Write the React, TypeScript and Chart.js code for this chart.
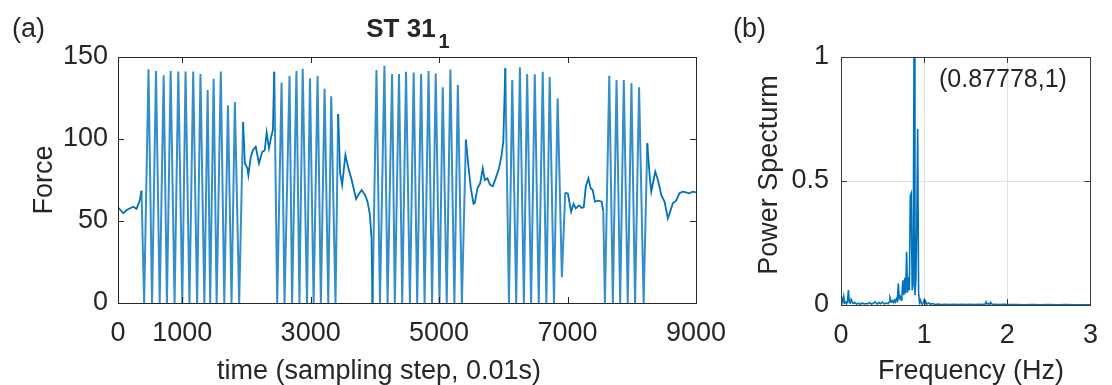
import React, { useEffect, useRef } from "react";
import { Chart, registerables } from "chart.js";

Chart.register(...registerables);

// ---------- Panel (a): force time series (key points) ----------
const timeSteps = [
  0, 82, 134, 237, 289, 340, 366, 407,
  475, 530, 592, 649, 711, 762, 820, 881, 939, 1001, 1052, 1113, 1171, 1232, 1284, 1345, 1396, 1435, 1489, 1536, 1601, 1655, 1712, 1768, 1820, 1887,
  1948, 1975, 2015, 2030, 2068, 2103, 2145, 2196, 2247, 2284, 2315, 2351, 2386, 2412,
  2433, 2479, 2547, 2593, 2671, 2711, 2779, 2825, 2876, 2943, 2989, 3046, 3108, 3159, 3217, 3274, 3320, 3387, 3428,
  3459, 3490, 3541, 3588, 3639, 3707, 3742, 3793, 3846, 3886, 3923, 3948, 3963,
  4025, 4079, 4149, 4198, 4268, 4311, 4376, 4426, 4485, 4546, 4604, 4659, 4720, 4774, 4836, 4891, 4948, 5006, 5057, 5119, 5176, 5238, 5292, 5355,
  5417, 5454, 5494, 5536, 5556, 5598, 5640, 5680, 5711, 5753, 5794, 5835, 5881, 5933, 5974, 6000,
  6031, 6088, 6139, 6201, 6258, 6320, 6371, 6433, 6490, 6552, 6614, 6670, 6722, 6789, 6846,
  6912, 6964, 7005, 7056, 7093, 7129, 7180, 7222, 7253, 7284, 7325, 7361, 7392, 7427, 7480, 7531, 7557, 7582,
  7650, 7706, 7763, 7820, 7876, 7938, 7995, 8052, 8114, 8185,
  8242, 8278, 8304, 8330, 8366, 8408, 8459, 8510, 8562, 8598, 8640, 8691, 8742, 8794, 8845, 8896, 8949, 9000,
];

const forceValues = [
  58.4, 54.7, 56.7, 58.7, 57.4, 62.8, 68.5, 0,
  142.5, 0, 141.5, 0, 138.9, 0, 141.5, 0, 141.1, 0, 141.1, 0, 141.1, 0, 139.6, 0, 129.9, 0, 136.8, 0, 141.1, 0, 120.6, 0, 122.6, 0,
  110.4, 85.2, 82.1, 78, 89.2, 93.3, 95.3, 85.2, 92.3, 93, 103.9, 94.3, 101.4, 105.5,
  141, 0, 134.4, 0, 138.4, 0, 141.5, 0, 142.9, 0, 137, 0, 138.4, 0, 130.6, 0, 126, 0, 115.3,
  79.1, 72, 90.3, 82.1, 75, 63.4, 65.9, 68.9, 65.9, 61.8, 53.7, 39.5, 0,
  142.1, 0, 144.7, 0, 139.6, 0, 139.6, 0, 141, 0, 140.5, 0, 139.6, 0, 141.5, 0, 140, 0, 131.5, 0, 142.4, 0, 132.9, 0,
  99.6, 84.2, 70, 60.5, 61, 70, 73, 82.1, 75, 76, 72, 71.2, 76, 82.1, 90.3, 98.4,
  143.1, 0, 136, 0, 143.7, 0, 139.6, 0, 139.5, 0, 141, 0, 137.8, 0, 124.8,
  15.7, 67.4, 66.7, 55.7, 60.4, 57.7, 59.5, 58, 58.5, 70.9, 76, 70, 68.9, 61.8, 62.4, 61.8, 55.7, 0,
  138.6, 0, 136, 0, 136, 0, 134, 0, 131.5, 0,
  97.4, 78, 67.9, 73, 80.1, 75, 65.9, 61.8, 51.6, 55.7, 60.8, 62.4, 66.9, 67.9, 67.5, 66.9, 67.9, 67.5,
];

const timeTicks = [0, 1000, 3000, 5000, 7000, 9000];
const forceTicks = [0, 50, 100, 150];

// ---------- Panel (b): power spectrum ----------
const freqHz = [
  0, 0.011, 0.022, 0.033, 0.044, 0.056, 0.067, 0.078, 0.089, 0.1, 0.111, 0.122, 0.144, 0.167, 0.189, 0.211, 0.233, 0.256,
  0.278, 0.3, 0.322, 0.344, 0.367, 0.389, 0.411, 0.433, 0.456, 0.478, 0.5, 0.522, 0.544, 0.567, 0.578, 0.589, 0.6, 0.611,
  0.622, 0.633, 0.644, 0.656, 0.667, 0.678, 0.689, 0.7, 0.711, 0.722, 0.733, 0.744, 0.756, 0.767, 0.778, 0.789, 0.8, 0.811,
  0.822, 0.833, 0.844, 0.856, 0.867, 0.878, 0.889, 0.9, 0.911, 0.922, 0.933, 0.944, 0.956, 0.967, 0.978, 0.989, 1.0, 1.011,
  1.022, 1.033, 1.056, 1.078, 1.1, 1.133, 1.167, 1.2, 1.256, 1.3, 1.356, 1.4, 1.456, 1.5, 1.556, 1.6, 1.656, 1.7, 1.733,
  1.744, 1.756, 1.778, 1.789, 1.8, 1.822, 1.856, 1.9, 1.956, 2.0, 2.1, 2.2, 2.3, 2.4, 2.5, 2.6, 2.7, 2.8, 2.9, 3.0,
];

const powerValues = [
  0.012, 0.027, 0.012, 0.034, 0.008, 0.012, 0.005, 0.015, 0.06, 0.01, 0.008, 0.023, 0.006, 0.01, 0.004, 0.007, 0.003, 0.008,
  0.004, 0.006, 0.005, 0.009, 0.004, 0.007, 0.013, 0.004, 0.01, 0.005, 0.012, 0.004, 0.008, 0.005, 0.012, 0.031, 0.02, 0.012,
  0.017, 0.01, 0.02, 0.012, 0.025, 0.018, 0.087, 0.027, 0.035, 0.02, 0.04, 0.1, 0.04, 0.11, 0.047, 0.215, 0.05, 0.09,
  0.06, 0.44, 0.45, 0.06, 0.08, 1.0, 0.04, 0.1, 0.316, 0.71, 0.05, 0.01, 0.02, 0.005, 0.003, 0.01, 0.02, 0.005,
  0.012, 0.004, 0.008, 0.003, 0.006, 0.002, 0.004, 0.002, 0.003, 0.002, 0.003, 0.002, 0.003, 0.002, 0.003, 0.002, 0.003, 0.002, 0.004,
  0.012, 0.003, 0.006, 0.002, 0.01, 0.002, 0.003, 0.002, 0.003, 0.002, 0.002, 0.001, 0.002, 0.001, 0.002, 0.001, 0.002, 0.001, 0.001, 0.001,
];

const freqTicks = [0, 1, 2, 3];
const powerTicks = [0, 0.5, 1];
const peakFreq = 0.87778;
const peakPower = 1;

// ---------- styles ----------
const FONT = "'Liberation Sans', Arial, Helvetica, sans-serif";
const TEXT = "#262626";
const BLUE = "#0072BD";
const EDGE = "rgba(0,114,189,0.8)";
const FRAME = "#262626";
const TICK_LEN = 6;

function framePlugin(xTicks: number[], yTicks: number[], frameColor: string) {
  return {
    id: "frameTicks",
    afterDatasetsDraw(chart: any) {
      const { ctx, chartArea: a, scales } = chart;
      ctx.save();
      ctx.strokeStyle = frameColor;
      ctx.lineWidth = 1;
      ctx.strokeRect(Math.round(a.left) + 0.5, Math.round(a.top) + 0.5, Math.round(a.right - a.left), Math.round(a.bottom - a.top));
      ctx.beginPath();
      for (const v of xTicks) {
        const x = Math.round(scales.x.getPixelForValue(v)) + 0.5;
        ctx.moveTo(x, a.bottom);
        ctx.lineTo(x, a.bottom - TICK_LEN);
        ctx.moveTo(x, a.top);
        ctx.lineTo(x, a.top + TICK_LEN);
      }
      for (const v of yTicks) {
        const y = Math.round(scales.y.getPixelForValue(v)) + 0.5;
        ctx.moveTo(a.left, y);
        ctx.lineTo(a.left + TICK_LEN, y);
        ctx.moveTo(a.right, y);
        ctx.lineTo(a.right - TICK_LEN, y);
      }
      ctx.stroke();
      ctx.restore();
    },
  };
}

function textPlugin(draw: (ctx: CanvasRenderingContext2D, chart: any) => void) {
  return {
    id: "texts",
    afterDraw(chart: any) {
      const ctx = chart.ctx as CanvasRenderingContext2D;
      ctx.save();
      ctx.fillStyle = TEXT;
      draw(ctx, chart);
      ctx.restore();
    },
  };
}

function rotatedText(ctx: CanvasRenderingContext2D, text: string, x: number, y: number) {
  ctx.save();
  ctx.translate(x, y);
  ctx.rotate(-Math.PI / 2);
  ctx.textAlign = "center";
  ctx.textBaseline = "alphabetic";
  ctx.fillText(text, 0, 0);
  ctx.restore();
}

const tickFont = { family: FONT, size: 27 };

export default function App() {
  const refA = useRef<HTMLCanvasElement>(null);
  const refB = useRef<HTMLCanvasElement>(null);

  useEffect(() => {
    const forcePoints = timeSteps.map((t, i) => ({ x: t, y: forceValues[i] }));
    const specPoints = freqHz.map((f, i) => ({ x: f, y: powerValues[i] }));

    const chartA = new Chart(refA.current as HTMLCanvasElement, {
      type: "line",
      data: {
        datasets: [
          {
            data: forcePoints,
            borderColor: BLUE,
            borderWidth: 1.8,
            pointRadius: 0,
            tension: 0,
            segment: {
              borderColor: (c: any) => (Math.abs(c.p1.parsed.y - c.p0.parsed.y) > 45 ? EDGE : BLUE),
              borderWidth: (c: any) => (Math.abs(c.p1.parsed.y - c.p0.parsed.y) > 45 ? 2 : 1.8),
            },
          } as any,
        ],
      },
      options: {
        animation: false,
        responsive: false,
        devicePixelRatio: 1,
        layout: { padding: { left: 0, right: 40, top: 57, bottom: 0 } },
        plugins: { legend: { display: false }, tooltip: { enabled: false }, title: { display: false } },
        scales: {
          x: {
            type: "linear",
            min: 0,
            max: 9000,
            afterBuildTicks: (s: any) => {
              s.ticks = timeTicks.map((v) => ({ value: v }));
            },
            afterFit: (s: any) => {
              s.height = 82;
            },
            grid: { display: false, drawTicks: false, tickLength: 0 },
            border: { display: false },
            ticks: {
              font: tickFont,
              color: TEXT,
              padding: 14,
              maxRotation: 0,
              autoSkip: false,
              callback: (v: any) => String(v),
            },
          },
          y: {
            type: "linear",
            min: 0,
            max: 150,
            afterBuildTicks: (s: any) => {
              s.ticks = forceTicks.map((v) => ({ value: v }));
            },
            afterFit: (s: any) => {
              s.width = 118;
            },
            grid: { display: false, drawTicks: false, tickLength: 0 },
            border: { display: false },
            ticks: { font: tickFont, color: TEXT, padding: 10, autoSkip: false, callback: (v: any) => String(v) },
          },
        },
      } as any,
      plugins: [
        framePlugin(timeTicks, forceTicks, FRAME),
        textPlugin((ctx) => {
          ctx.font = `27px ${FONT}`;
          ctx.textAlign = "left";
          ctx.textBaseline = "alphabetic";
          ctx.fillText("(a)", 12, 37);
          // title "ST 31" with subscript 1
          ctx.font = `bold 26px ${FONT}`;
          const main = "ST 31";
          const wMain = ctx.measureText(main).width;
          ctx.font = `bold 20px ${FONT}`;
          const wSub = ctx.measureText("1").width;
          const startX = 408 - (wMain + 3 + wSub) / 2;
          ctx.font = `bold 26px ${FONT}`;
          ctx.fillText(main, startX, 37);
          ctx.font = `bold 20px ${FONT}`;
          ctx.fillText("1", startX + wMain + 3, 48);
          // axis titles
          ctx.font = `27px ${FONT}`;
          ctx.textAlign = "center";
          ctx.fillText("time (sampling step, 0.01s)", 379, 379);
          rotatedText(ctx, "Force", 52, 180);
        }),
      ],
    });

    const chartB = new Chart(refB.current as HTMLCanvasElement, {
      type: "line",
      data: {
        datasets: [
          {
            data: specPoints,
            borderColor: BLUE,
            borderWidth: 1.6,
            pointRadius: 0,
            tension: 0,
          },
        ],
      },
      options: {
        animation: false,
        responsive: false,
        devicePixelRatio: 1,
        layout: { padding: { left: 0, right: 10, top: 57, bottom: 0 } },
        plugins: { legend: { display: false }, tooltip: { enabled: false } },
        scales: {
          x: {
            type: "linear",
            min: 0,
            max: 3,
            afterBuildTicks: (s: any) => {
              s.ticks = freqTicks.map((v) => ({ value: v }));
            },
            afterFit: (s: any) => {
              s.height = 80;
            },
            grid: { display: true, color: "#e1e1e1", lineWidth: 1, drawTicks: false, tickLength: 0 },
            border: { display: false },
            ticks: { font: tickFont, color: TEXT, padding: 14, maxRotation: 0, autoSkip: false, callback: (v: any) => String(v) },
          },
          y: {
            type: "linear",
            min: 0,
            max: 1,
            afterBuildTicks: (s: any) => {
              s.ticks = powerTicks.map((v) => ({ value: v }));
            },
            afterFit: (s: any) => {
              s.width = 121;
            },
            grid: { display: true, color: "#e1e1e1", lineWidth: 1, drawTicks: false, tickLength: 0 },
            border: { display: false },
            ticks: { font: tickFont, color: TEXT, padding: 12, autoSkip: false, callback: (v: any) => String(v) },
          },
        },
      } as any,
      plugins: [
        framePlugin(freqTicks, powerTicks, "#3a3a3a"),
        textPlugin((ctx, chart) => {
          ctx.font = `27px ${FONT}`;
          ctx.textAlign = "left";
          ctx.textBaseline = "alphabetic";
          ctx.fillText("(b)", 13, 37);
          ctx.textAlign = "center";
          ctx.fillText("Frequency (Hz)", 251, 379);
          rotatedText(ctx, "Power Specturm", 57, 175);
          // peak annotation anchored at the data point (right of it)
          const sx = chart.scales.x;
          const sy = chart.scales.y;
          const ax = sx.getPixelForValue(peakFreq) + 25;
          const ay = sy.getPixelForValue(peakPower) + 30;
          ctx.font = `25px ${FONT}`;
          ctx.textAlign = "left";
          ctx.fillText(`(${peakFreq},${peakPower})`, ax, ay);
        }),
      ],
    });

    return () => {
      chartA.destroy();
      chartB.destroy();
    };
  }, []);

  return (
    <div style={{ position: "absolute", left: 0, top: 0, width: 1112, height: 385, background: "#fff", overflow: "hidden" }}>
      <canvas ref={refA} width={740} height={385} style={{ position: "absolute", left: 0, top: 0, width: 740, height: 385 }} />
      <canvas ref={refB} width={392} height={385} style={{ position: "absolute", left: 720, top: 0, width: 392, height: 385 }} />
    </div>
  );
}
